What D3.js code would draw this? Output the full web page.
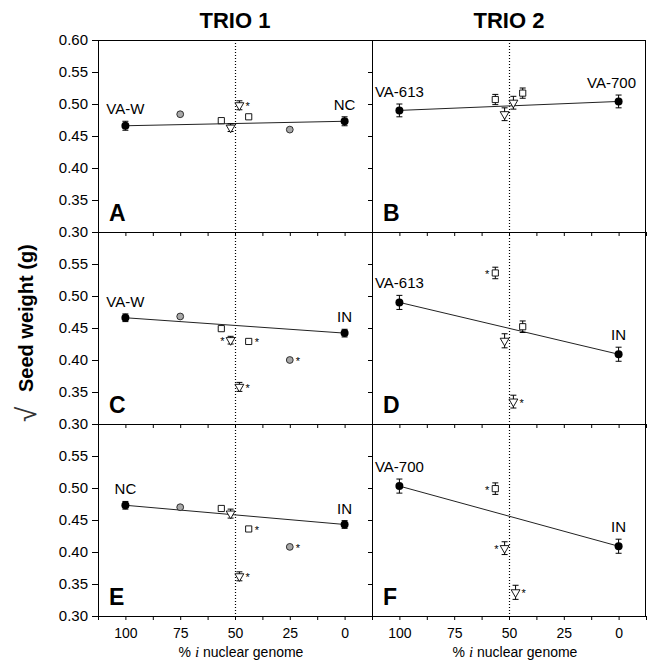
<!DOCTYPE html>
<html>
<head>
<meta charset="utf-8">
<script src="https://cdn.jsdelivr.net/npm/d3@7"></script>
<style>
  html, body { margin: 0; padding: 0; background: #fff; }
  svg { display: block; font-family: "Liberation Sans", Arial, Helvetica, sans-serif; }
</style>
</head>
<body>
<svg id="chart" width="647" height="664"></svg>
<script>
// ---------------- DATA ----------------
const columnTitles = ["TRIO 1", "TRIO 2"];
const panelLetters = ["A", "B", "C", "D", "E", "F"];
const xTickValues = [112.5, 100, 87.5, 75, 62.5, 50, 37.5, 25, 12.5, 0, -12.5];
const xTickLabels = [100, 75, 50, 25, 0];
const yTickValues = [0.30, 0.35, 0.40, 0.45, 0.50, 0.55, 0.60];
const xTitle = "nuclear genome";
const yTitle = "Seed weight (g)";

const parentLeft  = ["VA-W", "VA-613", "VA-W", "VA-613", "NC", "VA-700"];
const parentRight = ["NC", "VA-700", "IN", "IN", "IN", "IN"];

// kinds: P = parent (black circle), G = grey circle, S = open square, T = open down-triangle
const A_pct  = [100, 75, 56.25, 52, 48, 43.75, 25, 0];
const A_val  = [0.466, 0.484, 0.474, 0.463, 0.498, 0.480, 0.460, 0.473];
const A_err  = [0.007, 0.002, 0.002, 0.006, 0.007, 0.002, 0.002, 0.007];
const A_kind = ["P", "G", "S", "T", "T", "S", "G", "P"];
const A_sig  = ["", "", "", "", "R", "", "", ""];

const B_pct  = [100, 56.25, 52, 48, 43.75, 0];
const B_val  = [0.490, 0.507, 0.484, 0.502, 0.517, 0.504];
const B_err  = [0.010, 0.008, 0.010, 0.010, 0.008, 0.010];
const B_kind = ["P", "S", "T", "T", "S", "P"];
const B_sig  = ["", "", "", "", "", ""];

const C_pct  = [100, 75, 56.25, 52, 48, 43.75, 25, 0];
const C_val  = [0.466, 0.468, 0.449, 0.431, 0.358, 0.429, 0.400, 0.442];
const C_err  = [0.006, 0.002, 0.002, 0.006, 0.007, 0.002, 0.002, 0.006];
const C_kind = ["P", "G", "S", "T", "T", "S", "G", "P"];
const C_sig  = ["", "", "", "L", "R", "R", "R", ""];

const D_pct  = [100, 56.25, 52, 48, 43.75, 0];
const D_val  = [0.490, 0.536, 0.430, 0.335, 0.452, 0.409];
const D_err  = [0.011, 0.009, 0.011, 0.010, 0.009, 0.011];
const D_kind = ["P", "S", "T", "T", "S", "P"];
const D_sig  = ["", "L", "", "R", "", ""];

const E_pct  = [100, 75, 56.25, 52, 48, 43.75, 25, 0];
const E_val  = [0.473, 0.470, 0.468, 0.460, 0.362, 0.436, 0.408, 0.443];
const E_err  = [0.006, 0.002, 0.002, 0.007, 0.007, 0.002, 0.002, 0.006];
const E_kind = ["P", "G", "S", "T", "T", "S", "G", "P"];
const E_sig  = ["", "", "", "", "R", "R", "R", ""];

const F_pct  = [100, 56.25, 52, 47, 0];
const F_val  = [0.503, 0.499, 0.406, 0.337, 0.409];
const F_err  = [0.011, 0.009, 0.010, 0.011, 0.011];
const F_kind = ["P", "S", "T", "T", "P"];
const F_sig  = ["", "L", "L", "R", ""];

const panelData = [
  [A_pct, A_val, A_err, A_kind, A_sig],
  [B_pct, B_val, B_err, B_kind, B_sig],
  [C_pct, C_val, C_err, C_kind, C_sig],
  [D_pct, D_val, D_err, D_kind, D_sig],
  [E_pct, E_val, E_err, E_kind, E_sig],
  [F_pct, F_val, F_err, F_kind, F_sig]
];

// ---------------- LAYOUT ----------------
const svg = d3.select("#chart");
const colRanges = [[98, 372], [372, 646]];
const rowTop = [40, 232, 424];
const panelH = 192;
const font = '"Liberation Sans", Arial, Helvetica, sans-serif';

const xScales = colRanges.map(r => d3.scaleLinear().domain([112.5, -12.5]).range(r));
const yScales = rowTop.map(t => d3.scaleLinear().domain([0.30, 0.60]).range([t + panelH, t]));

const symTri = d3.symbol().type(d3.symbolTriangle).size(34);
const symSq = d3.symbol().type(d3.symbolSquare).size(38);

// column titles
columnTitles.forEach((t, c) => {
  svg.append("text")
    .attr("x", xScales[c](50)).attr("y", 28)
    .attr("text-anchor", "middle")
    .style("font-size", "22px").style("font-weight", "bold")
    .text(t);
});

// y title
svg.append("text")
  .attr("transform", "translate(33,392) rotate(-90)")
  .attr("text-anchor", "start")
  .style("font-size", "20px").style("font-weight", "bold")
  .text(yTitle);
svg.append("text")
  .attr("transform", "translate(36,422) rotate(-90)")
  .attr("text-anchor", "start")
  .style("font-size", "28px").attr("fill", "#333")
  .text("\u221A");

panelLetters.forEach((letter, i) => {
  const col = i % 2, row = Math.floor(i / 2);
  const x = xScales[col], y = yScales[row];
  const [pct, val, err, kind, sig] = panelData[i];
  const g = svg.append("g");
  const left = colRanges[col][0], right = colRanges[col][1];
  const top = rowTop[row], bottom = top + panelH;

  // dotted 50% line
  g.append("line")
    .attr("x1", Math.round(x(50)) + 0.5).attr("x2", Math.round(x(50)) + 0.5)
    .attr("y1", top).attr("y2", bottom)
    .attr("stroke", "#000").attr("stroke-width", 1.2)
    .attr("stroke-dasharray", "1,2");

  // bottom axis
  const isBottom = row === 2;
  const xAxis = d3.axisBottom(x).tickValues(xTickValues).tickSize(4).tickSizeOuter(0)
    .tickFormat(d => (isBottom && xTickLabels.includes(d)) ? d : "");
  const gx = g.append("g").attr("transform", `translate(0,${bottom})`).call(xAxis);
  gx.selectAll("text").style("font-size", "14px").style("font-family", font).attr("dy", "1.05em").attr("fill", "#000");
  gx.selectAll("line,path").attr("stroke", "#000");

  // left axis
  const yAxis = d3.axisLeft(y).tickValues(yTickValues).tickSize(col === 0 ? 6 : 4).tickSizeOuter(0)
    .tickFormat(d => {
      if (col !== 0) return "";
      if (row > 0 && Math.abs(d - 0.60) < 1e-9) return "";
      return d3.format(".2f")(d);
    });
  const gy = g.append("g").attr("transform", `translate(${left},0)`).call(yAxis);
  gy.selectAll("text").style("font-size", "15px").style("font-family", font).attr("x", -10).attr("fill", "#000");
  gy.selectAll("line,path").attr("stroke", "#000");

  // top border & right border
  if (row === 0) {
    g.append("line").attr("x1", left).attr("x2", right).attr("y1", top + 0.5).attr("y2", top + 0.5).attr("stroke", "#000");
  }
  if (col === 1) {
    g.append("line").attr("x1", 645.5).attr("x2", 645.5).attr("y1", top).attr("y2", bottom).attr("stroke", "#000");
  }

  // parent regression line
  const iL = pct.indexOf(100), iR = pct.indexOf(0);
  g.append("line")
    .attr("x1", x(pct[iL])).attr("y1", y(val[iL]))
    .attr("x2", x(pct[iR])).attr("y2", y(val[iR]))
    .attr("stroke", "#222").attr("stroke-width", 1);

  // points
  pct.forEach((p, j) => {
    const cx = x(p), cy = y(val[j]);
    const y1 = y(val[j] + err[j]), y2 = y(val[j] - err[j]);
    g.append("line").attr("x1", cx).attr("x2", cx).attr("y1", y1).attr("y2", y2).attr("stroke", "#000");
    g.append("line").attr("x1", cx - 3).attr("x2", cx + 3).attr("y1", y1).attr("y2", y1).attr("stroke", "#000");
    g.append("line").attr("x1", cx - 3).attr("x2", cx + 3).attr("y1", y2).attr("y2", y2).attr("stroke", "#000");

    const k = kind[j];
    if (k === "P") {
      g.append("circle").attr("cx", cx).attr("cy", cy).attr("r", 4).attr("fill", "#000");
    } else if (k === "G") {
      g.append("circle").attr("cx", cx).attr("cy", cy).attr("r", 3.4)
        .attr("fill", "#a8a8a8").attr("stroke", "#222").attr("stroke-width", 0.9);
    } else if (k === "S") {
      g.append("path").attr("d", symSq()).attr("transform", `translate(${cx},${cy})`)
        .attr("fill", "#fff").attr("stroke", "#000").attr("stroke-width", 0.9);
    } else if (k === "T") {
      g.append("path").attr("d", symTri()).attr("transform", `translate(${cx},${cy}) rotate(180)`)
        .attr("fill", "#fff").attr("stroke", "#000").attr("stroke-width", 0.9);
    }
    if (sig[j]) {
      const isR = sig[j] === "R";
      g.append("text")
        .attr("x", isR ? cx + 6 : cx - 6).attr("y", cy + 5)
        .attr("text-anchor", isR ? "start" : "end")
        .style("font-size", "11px")
        .text("*");
    }
  });

  // parent labels
  [[iL, parentLeft[i]], [iR, parentRight[i]]].forEach(([j, lab]) => {
    const t = g.append("text")
      .attr("x", x(pct[j])).attr("y", y(val[j] + err[j]) - 7)
      .attr("text-anchor", "middle")
      .style("font-size", "15px")
      .text(lab);
    const w = t.node().getComputedTextLength();
    const cx = x(pct[j]);
    if (cx + w / 2 > right - 10) t.attr("x", right - 10 - w / 2);
  });

  // panel letter
  g.append("text")
    .attr("x", left + 11).attr("y", bottom - 11)
    .style("font-size", "23px").style("font-weight", "bold")
    .text(letter);

  // x title
  if (isBottom) {
    const t = g.append("text")
      .attr("x", x(50) + 6).attr("y", 657)
      .attr("text-anchor", "middle")
      .style("font-size", "14px");
    t.append("tspan").text("% ");
    t.append("tspan").style("font-family", '"Liberation Serif", "Times New Roman", serif').style("font-style", "italic").style("font-size", "15px").text("i");
    t.append("tspan").text(" " + xTitle);
  }
});
</script>
</body>
</html>
